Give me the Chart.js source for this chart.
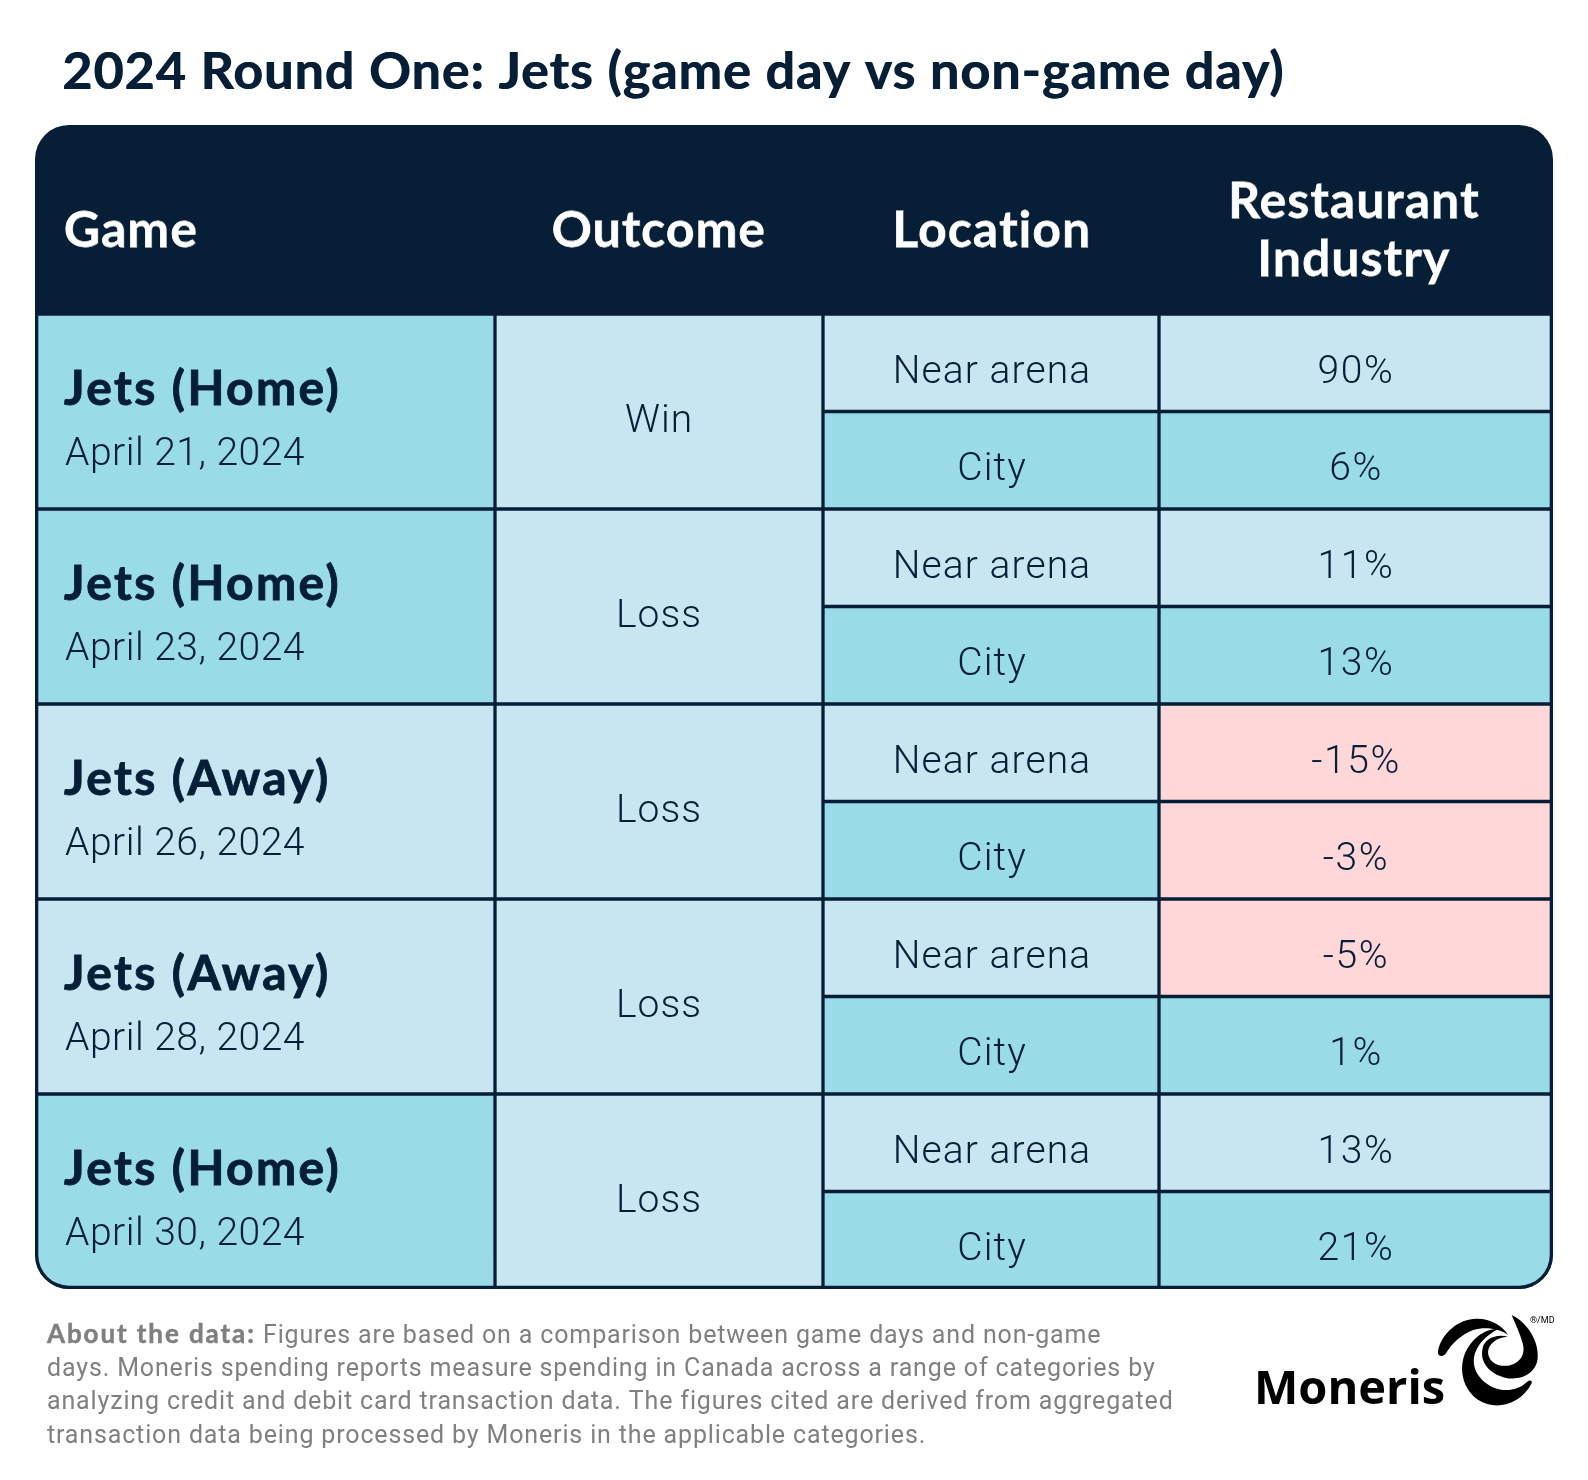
<!DOCTYPE html>
<html lang="en">
<head>
<meta charset="UTF-8">
<title>2024 Round One: Jets</title>
<script src="https://cdn.jsdelivr.net/npm/chart.js"></script>
<style>
  html, body { margin: 0; padding: 0; background: #fff; }
  #wrap { width: 1588px; height: 1480px; }
</style>
</head>
<body>
<div id="wrap"><canvas id="table" width="1588" height="1480"></canvas></div>
<script>
const titleText = '2024 Round One: Jets (game day vs non-game day)';
const headers = ['Game', 'Outcome', 'Location', ['Restaurant', 'Industry']];
const games = ['Jets (Home)', 'Jets (Home)', 'Jets (Away)', 'Jets (Away)', 'Jets (Home)'];
const dates = ['April 21, 2024', 'April 23, 2024', 'April 26, 2024', 'April 28, 2024', 'April 30, 2024'];
const outcomes = ['Win', 'Loss', 'Loss', 'Loss', 'Loss'];
const locations = ['Near arena', 'City'];
const restaurant = [90, 6, 11, 13, -15, -3, -5, 1, 13, 21];
const footLead = 'About the data:';
const footLines = [
  'Figures are based on a comparison between game days and non-game',
  'days. Moneris spending reports measure spending in Canada across a range of categories by',
  'analyzing credit and debit card transaction data. The figures cited are derived from aggregated',
  'transaction data being processed by Moneris in the applicable categories.'
];

const NAVY = '#061f37', LIGHT = '#c8e6f1', MID = '#9adbe8', PINK = '#ffd7d9', GREY = '#808080';
const colEdges = [35, 495, 823, 1159, 1553];
const headerCenters = [131, 659, 992, 1354];
const RADIUS = 34;
const LINE = 1.65;

const rowLabels = restaurant.map((v, i) => games[Math.floor(i / 2)] + ' ' + locations[i % 2]);
const gameLabels = games.map((g, i) => g + ' ' + dates[i]);
const span = (c, n) => Array.from({ length: n }, () => [colEdges[c], colEdges[c + 1]]);
const colMid = c => (colEdges[c] + colEdges[c + 1]) / 2;

// outer edges of the table get the whole line, inner edges share it with the neighbour
function cellBorder(c, rows) {
  return ctx => ({
    top: LINE,
    left: c === 0 ? LINE * 2 : LINE,
    right: c === 3 ? LINE * 2 : LINE,
    bottom: ctx.dataIndex === rows - 1 ? LINE * 2 : LINE
  });
}

const swirlPaths = [
  'M24 140 C30 95 75 47 130 42 C175 37 215 60 235 90 C205 70 165 65 130 75 C95 88 65 115 48 145 C40 158 22 155 24 140 Z',
  'M205 72 C165 70 125 100 105 145 C85 195 100 255 145 285 C195 318 272 300 305 235 C308 225 297 224 290 232 C262 258 220 262 185 245 C145 225 122 185 135 145 C145 115 170 90 205 72 Z',
  'M245 30 C292 52 328 110 323 160 C318 208 270 228 225 218 C178 207 148 170 158 130 C163 103 195 86 234 95 C200 97 177 115 174 140 C174 168 200 186 235 182 C268 177 288 150 278 115 C270 85 255 55 245 30 Z'
];

const tablePlugin = {
  id: 'tablePlugin',
  afterLayout(chart) { chart.titleBlock.left = 62; },
  beforeDraw(chart) {
    const { ctx, chartArea: a } = chart;
    ctx.letterSpacing = '1px';
    ctx.fillStyle = NAVY;
    ctx.beginPath();
    // navy under the whole table, so row seams never show white
    ctx.roundRect(a.left, 125, a.right - a.left, a.bottom - 125, RADIUS);
    ctx.fill();
    // title font is lighter than the original, a hard shadow thickens it
    ctx.shadowColor = NAVY;
    ctx.shadowBlur = 0;
    ctx.shadowOffsetX = 0.8;
  },
  beforeDatasetsDraw(chart) {
    chart.ctx.shadowColor = 'transparent';
    chart.ctx.shadowOffsetX = 0;
  },
  afterDraw(chart) {
    const { ctx, scales: { x, y, yGame } } = chart;
    ctx.save();
    ctx.fillStyle = NAVY;
    ctx.strokeStyle = NAVY;
    ctx.textBaseline = 'alphabetic';
    games.forEach((g, i) => {
      const mid = yGame.getPixelForValue(i);
      ctx.textAlign = 'left';
      ctx.font = 'bold 48px Lato';
      ctx.letterSpacing = '2.4px';
      ctx.lineWidth = 0.9;
      ctx.fillText(g, 64, mid - 7);
      ctx.strokeText(g, 64, mid - 7);
      ctx.font = '300 39px Roboto';
      ctx.letterSpacing = '0.5px';
      ctx.fillText(dates[i], 65, mid + 53.5);
      ctx.textAlign = 'center';
      ctx.letterSpacing = '1px';
      ctx.fillText(outcomes[i], x.getPixelForValue(colMid(1)), mid + 20);
    });
    restaurant.forEach((v, i) => {
      const cy = y.getPixelForValue(i) + 20;
      ctx.textAlign = 'center';
      ctx.letterSpacing = '1.1px';
      ctx.fillText(locations[i % 2], x.getPixelForValue(colMid(2)) + 1, cy);
      ctx.letterSpacing = '1.6px';
      ctx.fillText(v + '%', x.getPixelForValue(colMid(3)), cy);
    });
    // footnote
    ctx.textAlign = 'left';
    ctx.fillStyle = GREY;
    ctx.strokeStyle = GREY;
    ctx.font = 'bold 26px Lato';
    ctx.letterSpacing = '1.9px';
    ctx.lineWidth = 0.5;
    ctx.fillText(footLead, 47, 1343);
    ctx.strokeText(footLead, 47, 1343);
    ctx.font = '400 25px Roboto';
    ctx.letterSpacing = '0.85px';
    ctx.fillText(footLines[0], 263, 1343);
    footLines.slice(1).forEach((l, i) => ctx.fillText(l, 47, 1376 + i * 33.4));
    // logo
    ctx.fillStyle = '#000';
    ctx.font = 'bold 47px "Open Sans"';
    ctx.letterSpacing = '0px';
    ctx.fillText('Moneris', 1254, 1404);
    ctx.font = '9px Roboto';
    ctx.fillText('®/MD', 1530, 1323);
    ctx.translate(1430, 1305);
    ctx.scale(1 / 3, 1 / 3);
    swirlPaths.forEach(d => ctx.fill(new Path2D(d)));
    ctx.restore();
  }
};

new Chart(document.getElementById('table'), {
  type: 'bar',
  plugins: [tablePlugin],
  data: {
    datasets: [
      { label: 'Game', yAxisID: 'yGame', data: span(0, games.length), borderWidth: cellBorder(0, games.length),
        backgroundColor: c => games[c.dataIndex].includes('Home') ? MID : LIGHT,
        borderRadius: c => c.dataIndex === games.length - 1 ? { bottomLeft: RADIUS } : 0 },
      { label: 'Outcome', yAxisID: 'yGame', data: span(1, games.length), borderWidth: cellBorder(1, games.length),
        backgroundColor: LIGHT },
      { label: 'Location', yAxisID: 'y', data: span(2, restaurant.length), borderWidth: cellBorder(2, restaurant.length),
        backgroundColor: c => c.dataIndex % 2 ? MID : LIGHT },
      { label: 'Restaurant Industry', yAxisID: 'y', data: span(3, restaurant.length), borderWidth: cellBorder(3, restaurant.length),
        backgroundColor: c => restaurant[c.dataIndex] < 0 ? PINK : (c.dataIndex % 2 ? MID : LIGHT),
        borderRadius: c => c.dataIndex === restaurant.length - 1 ? { bottomRight: RADIUS } : 0 }
    ]
  },
  options: {
    indexAxis: 'y',
    responsive: false,
    animation: false,
    devicePixelRatio: 1,
    layout: { padding: { left: 35, right: 35, top: 0, bottom: 191 } },
    datasets: { bar: { grouped: false, barPercentage: 1, categoryPercentage: 1, borderColor: NAVY, borderSkipped: false, inflateAmount: 0 } },
    plugins: {
      legend: { display: false },
      tooltip: { enabled: false },
      title: {
        display: true, text: titleText, align: 'start', color: NAVY,
        font: { family: 'Lato', weight: 'bold', size: 52, lineHeight: 1.2 },
        padding: { top: 41, bottom: 20.6 }
      }
    },
    scales: {
      x: {
        position: 'top', min: colEdges[0], max: colEdges[4],
        grid: { display: false }, border: { display: false },
        afterBuildTicks: axis => { axis.ticks = headerCenters.map(value => ({ value })); },
        afterFit: axis => { axis.height = 190; },
        ticks: {
          autoSkip: false, maxRotation: 0, crossAlign: 'center', padding: 46, color: '#fff',
          textStrokeColor: '#fff', textStrokeWidth: 0.8,
          font: { family: 'Lato', weight: 'bold', size: 50, lineHeight: 1.16 },
          callback: (v, i) => headers[i]
        }
      },
      y: { type: 'category', labels: rowLabels, display: false },
      yGame: { type: 'category', labels: gameLabels, display: false }
    }
  }
});
</script>
</body>
</html>
